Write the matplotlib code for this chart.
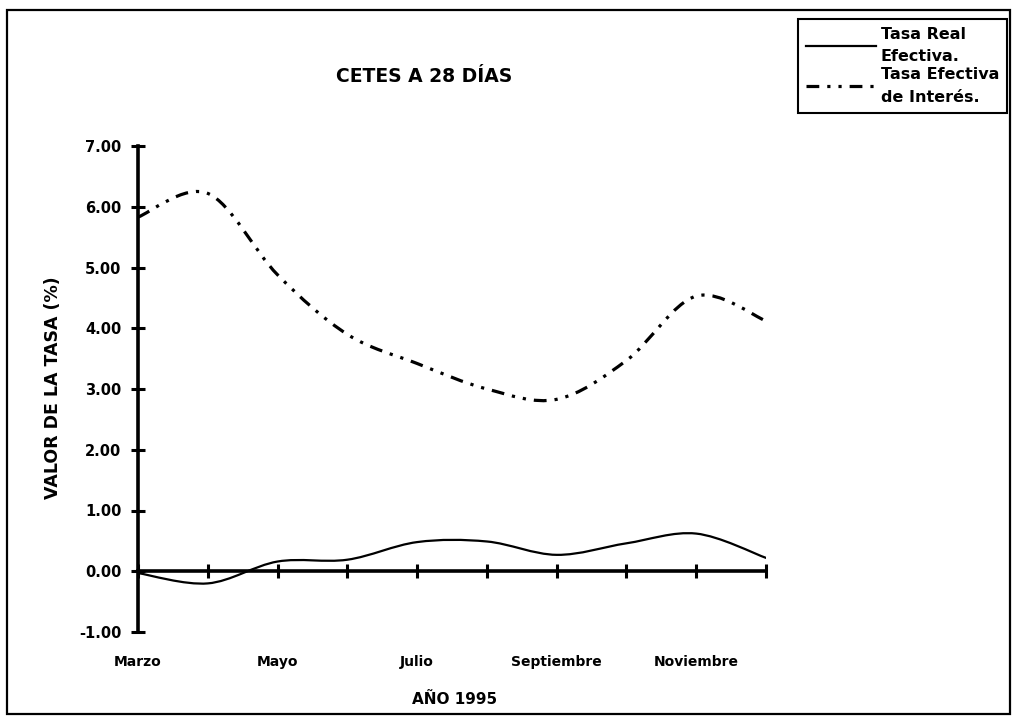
# Grafica CETES a 28 dias: tasa real efectiva vs tasa efectiva de interes (1995)
import matplotlib
matplotlib.use("Agg")
import matplotlib.pyplot as plt
from matplotlib.path import Path
from matplotlib.patches import PathPatch, Rectangle
from matplotlib.lines import Line2D

plt.rcParams["font.family"] = ["DejaVu Sans"]
plt.rcParams["font.weight"] = "bold"

meses = ["Marzo", "Abril", "Mayo", "Junio", "Julio", "Agosto",
         "Septiembre", "Octubre", "Noviembre", "Diciembre"]
etiquetas = ["Marzo", "", "Mayo", "", "Julio", "", "Septiembre", "", "Noviembre", ""]
tasa_real = [-0.03, -0.20, 0.16, 0.19, 0.48, 0.49, 0.27, 0.46, 0.62, 0.22]
tasa_efectiva = [5.83, 6.22, 4.88, 3.90, 3.42, 3.00, 2.83, 3.47, 4.53, 4.12]
y_ticks = [-1, 0, 1, 2, 3, 4, 5, 6, 7]


def curva_suave(xs, ys):
    # bezier tipo catmull-rom, parecido a la linea suavizada de excel
    n = len(xs)
    verts = [(xs[0], ys[0])]
    codes = [Path.MOVETO]
    for i in range(n - 1):
        x0, y0 = xs[max(i - 1, 0)], ys[max(i - 1, 0)]
        x1, y1 = xs[i], ys[i]
        x2, y2 = xs[i + 1], ys[i + 1]
        x3, y3 = xs[min(i + 2, n - 1)], ys[min(i + 2, n - 1)]
        verts += [(x1 + (x2 - x0) / 6, y1 + (y2 - y0) / 6),
                  (x2 - (x3 - x1) / 6, y2 - (y3 - y1) / 6),
                  (x2, y2)]
        codes += [Path.CURVE4] * 3
    return Path(verts, codes)


x = list(range(len(meses)))
estilo_efectiva = (0, (4, 2.5, 1, 2.5, 1, 2.5))

fig = plt.figure(figsize=(10.17, 7.17), dpi=100)
ax = fig.add_axes([138 / 1017, 1 - 632 / 717, 628 / 1017, 486 / 717])

ax.add_patch(PathPatch(curva_suave(x, tasa_real), fill=False, color="black",
                       lw=1.6, capstyle="round"))
ax.add_patch(PathPatch(curva_suave(x, tasa_efectiva), fill=False, color="black",
                       lw=2.3, linestyle=estilo_efectiva))

ax.set_xlim(0, len(meses) - 1)
ax.set_ylim(-1, 7)

for s in ["top", "right"]:
    ax.spines[s].set_visible(False)
ax.spines["left"].set_linewidth(2.6)
ax.spines["bottom"].set_linewidth(2.6)
ax.spines["bottom"].set_position(("data", 0))

ax.set_yticks(y_ticks)
ax.set_yticklabels([f"{v:.2f}" for v in y_ticks])
ax.set_xticks(x)
ax.set_xticklabels(etiquetas)
ax.tick_params(axis="y", direction="inout", length=10, width=2.2,
               labelsize=10.5, pad=7)
ax.tick_params(axis="x", direction="inout", length=10, width=2.2,
               labelsize=10, pad=55)

ax.set_ylabel("VALOR DE LA TASA (%)", fontsize=12.5, fontweight="bold")
ax.yaxis.set_label_coords(-0.121, 0.502)
fig.text(455 / 1017, 1 - 699 / 717, "AÑO 1995", fontsize=11,
         fontweight="bold", ha="center", va="center")
fig.text(424 / 1017, 1 - 76 / 717, "CETES A 28 DÍAS", fontsize=13.5,
         fontweight="bold", ha="center", va="center")

handles = [Line2D([], [], color="black", lw=1.6),
           Line2D([], [], color="black", lw=2.3, linestyle=estilo_efectiva)]
leg = fig.legend(handles, ["Tasa Real\nEfectiva.", "Tasa Efectiva\nde Interés."],
                 loc="upper right", bbox_to_anchor=(1007 / 1017, 1 - 19 / 717),
                 fancybox=False, edgecolor="black", framealpha=1,
                 handlelength=4.4, handletextpad=0.3, borderpad=0.5,
                 labelspacing=0.2, borderaxespad=0,
                 prop={"size": 11.5, "weight": "bold"})
leg.get_frame().set_linewidth(1.5)
for t in leg.get_texts():
    t.set_linespacing(1.6)

# marco exterior de la figura
fig.add_artist(Rectangle((7 / 1017, 3 / 717), 1003 / 1017, 704 / 717,
                         transform=fig.transFigure, fill=False,
                         edgecolor="black", lw=1.6))

fig.savefig("out.png", dpi=100)
